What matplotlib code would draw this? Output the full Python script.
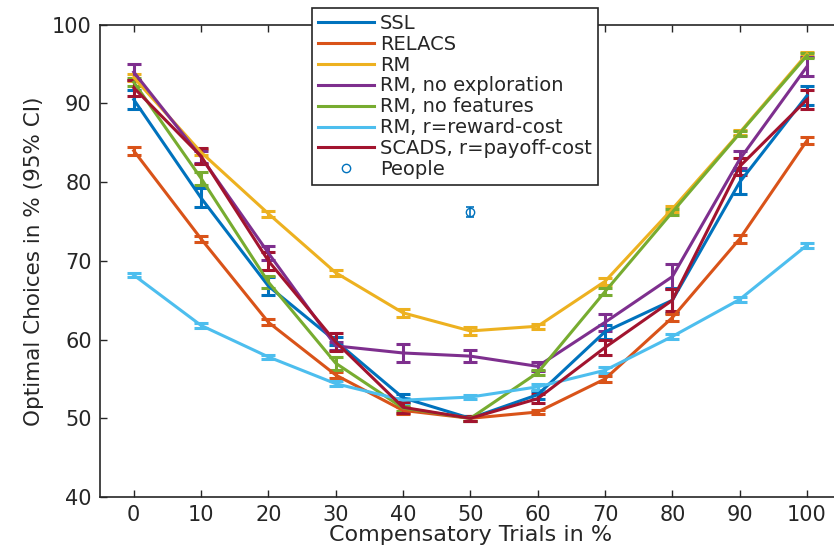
"""Optimal choices vs. share of compensatory trials, per model, with 95% CIs."""

import matplotlib.pyplot as plt

trials = [0, 10, 20, 30, 40, 50, 60, 70, 80, 90, 100]

ssl = [90.5, 78.0, 66.8, 59.8, 52.6, 50.0, 53.0, 61.0, 65.0, 80.0, 91.0]
ssl_err = [1.2, 1.2, 1.1, 0.5, 0.5, 0.3, 0.5, 0.9, 1.6, 1.5, 1.2]

relacs = [84.0, 72.8, 62.2, 55.5, 51.0, 50.0, 50.8, 55.0, 62.8, 72.8, 85.3]
relacs_err = [0.5, 0.4, 0.4, 0.4, 0.4, 0.3, 0.3, 0.4, 0.5, 0.5, 0.4]

rm = [93.3, 83.8, 76.0, 68.5, 63.4, 61.1, 61.7, 67.4, 76.6, 86.3, 96.3]
rm_err = [0.5, 0.4, 0.4, 0.4, 0.5, 0.5, 0.3, 0.4, 0.4, 0.3, 0.3]

rm_no_expl = [94.0, 83.2, 71.0, 59.2, 58.3, 57.9, 56.6, 62.2, 68.0, 82.9, 94.7]
rm_no_expl_err = [1.0, 0.8, 0.9, 0.5, 1.1, 0.8, 0.6, 1.1, 1.6, 1.1, 1.2]

rm_no_feat = [92.7, 80.5, 67.3, 57.0, 51.3, 50.0, 55.8, 66.1, 76.2, 86.2, 96.1]
rm_no_feat_err = [0.5, 0.8, 0.8, 0.8, 0.4, 0.3, 0.3, 0.4, 0.4, 0.3, 0.3]

rm_reward_cost = [68.2, 61.8, 57.8, 54.4, 52.3, 52.7, 54.0, 56.1, 60.4, 65.1, 72.0]
rm_reward_cost_err = [0.3, 0.3, 0.3, 0.3, 0.3, 0.3, 0.4, 0.4, 0.3, 0.3, 0.3]

scads = [92.0, 83.3, 70.0, 59.7, 51.4, 50.0, 52.5, 59.0, 65.0, 82.0, 90.5]
scads_err = [1.0, 1.0, 1.1, 1.2, 0.7, 0.3, 0.6, 1.0, 1.4, 1.1, 1.2]

people_x = [50]
people = [76.2]
people_err = [0.6]

series = [
    ("SSL", ssl, ssl_err, "#0072BD"),
    ("RELACS", relacs, relacs_err, "#D95319"),
    ("RM", rm, rm_err, "#EDB120"),
    ("RM, no exploration", rm_no_expl, rm_no_expl_err, "#7E2F8E"),
    ("RM, no features", rm_no_feat, rm_no_feat_err, "#77AC30"),
    ("RM, r=reward-cost", rm_reward_cost, rm_reward_cost_err, "#4DBEEE"),
    ("SCADS, r=payoff-cost", scads, scads_err, "#A2142F"),
]

plt.rcParams["font.family"] = ["DejaVu Sans"]
ink = "#262626"

fig = plt.figure(figsize=(8.34, 5.51), dpi=100)
ax = fig.add_axes([0.120, 0.098, 0.888, 0.857])

handles, labels = [], []
for label, values, err, color in series:
    ax.errorbar(trials, values, yerr=err, color=color, linewidth=2.2,
                elinewidth=2.2, capsize=5, capthick=2.2)
    line, = ax.plot([], [], color=color, linewidth=2.2)
    handles.append(line)
    labels.append(label)

ax.errorbar(people_x, people, yerr=people_err, color="#0072BD", fmt="o",
            mfc="none", markersize=6, elinewidth=1.2, capsize=3, capthick=1.2)
marker, = ax.plot([], [], "o", color="#0072BD", mfc="none", markersize=6)
handles.append(marker)
labels.append("People")

ax.set_xlim(-5, 105)
ax.set_ylim(40, 100)
ax.set_xticks(trials)
ax.set_yticks(range(40, 101, 10))
ax.tick_params(direction="in", length=5, width=1, colors=ink, labelsize=15,
               top=True, right=True, pad=6)
for spine in ax.spines.values():
    spine.set_color(ink)
    spine.set_linewidth(1.2)

ax.set_xlabel("Compensatory Trials in %", fontsize=16, color=ink, labelpad=0)
ax.set_ylabel("Optimal Choices in % (95% CI)", fontsize=15.5, color=ink,
              labelpad=6)

leg = ax.legend(handles, labels, loc="upper left", bbox_to_anchor=(0.286, 1.036),
                borderaxespad=0, fontsize=14, handlelength=2.9, labelspacing=0.1,
                handletextpad=0.3, borderpad=0.3, framealpha=1, fancybox=False)
leg.get_frame().set_edgecolor(ink)
leg.get_frame().set_linewidth(1.2)
for text in leg.get_texts():
    text.set_color(ink)

fig.savefig("out.png", dpi=100)
